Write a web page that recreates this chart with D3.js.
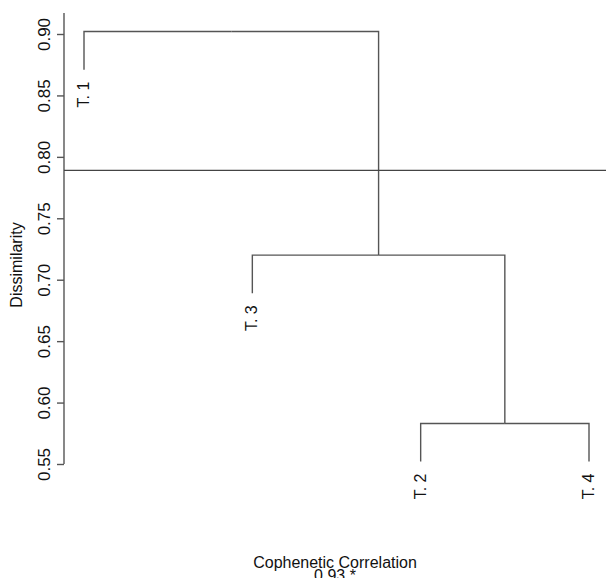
<!DOCTYPE html>
<html>
<head>
<meta charset="utf-8">
<script src="https://d3js.org/d3.v7.min.js"></script>
<style>
  body { margin: 0; background: #fff; }
  text { font-family: "Liberation Sans", Arial, sans-serif; fill: #111; }
</style>
</head>
<body>
<div id="chart"></div>
<script>
// leaf order as drawn, left to right
var leaves = ["T. 1", "T. 3", "T. 2", "T. 4"]
// merges: two members, height of the join
var mergeA = ["T. 2", "T. 4"]
var mergeB = ["T. 3", "A"]
var mergeTop = ["T. 1", "B"]
var mergeHeights = {A: 0.583, B: 0.72, Top: 0.902}
var leafHang = 0.031
var cutHeight = 0.789
var yTicks = [0.55, 0.60, 0.65, 0.70, 0.75, 0.80, 0.85, 0.90]
var cophenetic = "0.93 *"

var width = 606, height = 578

var svg = d3.select("#chart").append("svg")
    .attr("width", width)
    .attr("height", height)

var y = d3.scaleLinear().domain([0.55, 0.90]).range([464, 34])
var x = d3.scalePoint().domain(leaves).range([84, 589])

// node positions
var pos = {}
leaves.forEach(function(l) { pos[l] = {x: x(l), h: null} })
var nodes = [["A", mergeA], ["B", mergeB], ["Top", mergeTop]]
nodes.forEach(function(n) {
    var a = pos[n[1][0]], b = pos[n[1][1]]
    pos[n[0]] = {x: (a.x + b.x) / 2, h: mergeHeights[n[0]]}
})

var g = svg.append("g")
    .attr("stroke", "#555")
    .attr("stroke-width", 1.4)
    .attr("fill", "none")

nodes.forEach(function(n) {
    var h = mergeHeights[n[0]]
    n[1].forEach(function(c) {
        var child = pos[c]
        var bottom = child.h == null ? h - leafHang : child.h
        g.append("path")
            .attr("d", "M" + pos[n[0]].x + "," + y(h) + "H" + child.x + "V" + y(bottom))
    })
})

// leaf labels
leaves.forEach(function(l) {
    var parent = nodes.find(function(n) { return n[1].indexOf(l) >= 0 })
    var bottom = mergeHeights[parent[0]] - leafHang
    svg.append("text")
        .attr("transform", "translate(" + (x(l) + 5) + "," + (y(bottom) + 12) + ") rotate(-90)")
        .attr("text-anchor", "end")
        .style("font-size", "16px")
        .text(l)
})

// y axis
var axis = svg.append("g")
    .attr("transform", "translate(64,0)")
    .call(d3.axisLeft(y).tickValues(yTicks).tickFormat(d3.format(".2f")).tickSize(7).tickSizeOuter(0))
axis.select(".domain").attr("d", "M0,13V464").attr("stroke", "#555").attr("stroke-width", 1.4)
axis.selectAll(".tick line").attr("stroke", "#555").attr("stroke-width", 1.4)
axis.selectAll(".tick text")
    .attr("transform", "rotate(-90)")
    .attr("x", 0).attr("y", -14)
    .attr("dy", 0)
    .attr("text-anchor", "middle")
    .style("font-size", "17px")
    .style("font-family", "Liberation Sans, Arial, sans-serif")
    .attr("fill", "#111")

svg.append("text")
    .attr("transform", "translate(22,265) rotate(-90)")
    .attr("text-anchor", "middle")
    .style("font-size", "16px")
    .text("Dissimilarity")

// cut line
svg.append("line")
    .attr("x1", 64).attr("x2", width)
    .attr("y1", y(cutHeight)).attr("y2", y(cutHeight))
    .attr("stroke", "#444").attr("stroke-width", 1.4)

svg.append("text")
    .attr("x", 335).attr("y", 568)
    .attr("text-anchor", "middle")
    .style("font-size", "16px")
    .text("Cophenetic Correlation")
svg.append("text")
    .attr("x", 335).attr("y", 581)
    .attr("text-anchor", "middle")
    .style("font-size", "16px")
    .text(cophenetic)
</script>
</body>
</html>
